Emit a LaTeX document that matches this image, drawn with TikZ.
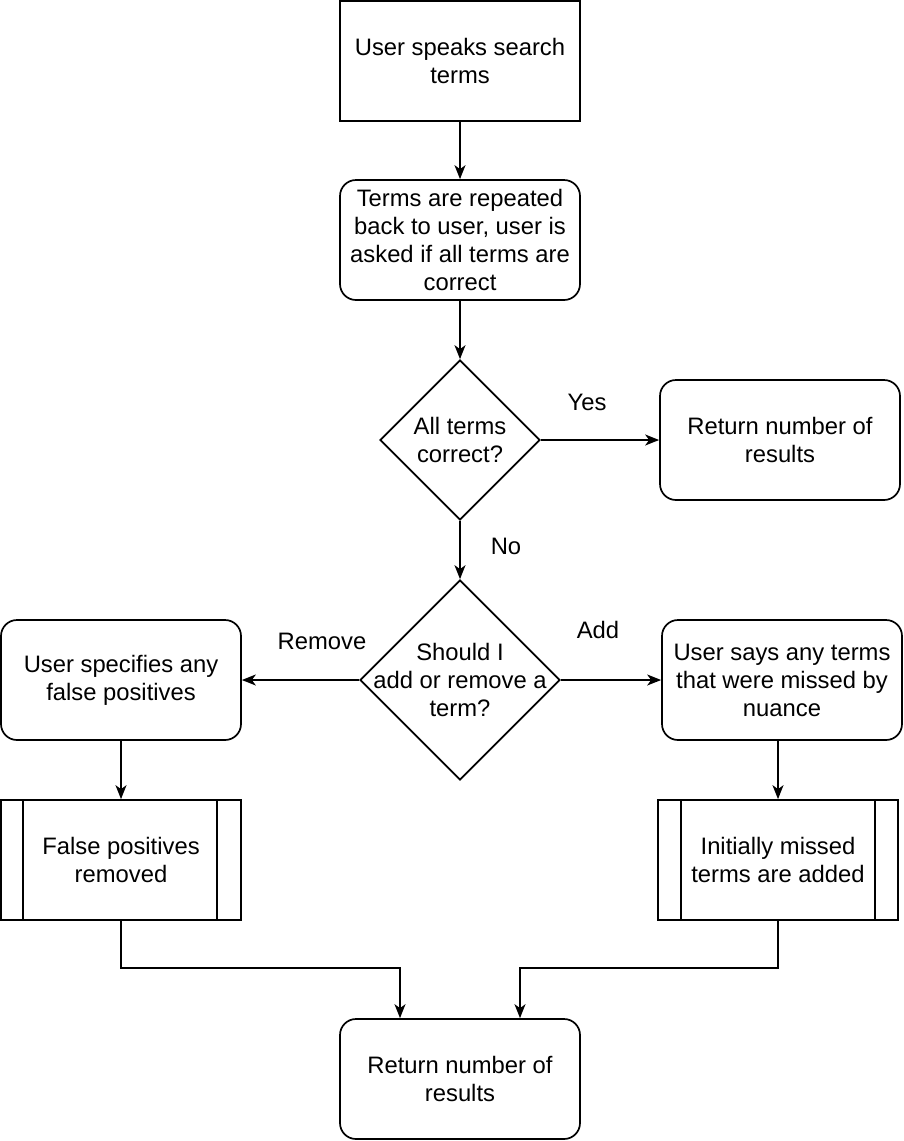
\documentclass[tikz,border=0pt]{standalone}
\usepackage{fontspec}
\setmainfont{Liberation Sans}
\usetikzlibrary{shapes.geometric,arrows.meta}
\begin{document}
\begin{tikzpicture}[x=1pt,y=-1pt,
  every node/.style={font=\fontsize{23.8}{28}\selectfont, align=center},
  sqbox/.style={draw, line width=1.7pt, minimum width=240pt, minimum height=120pt, inner sep=0pt},
  rbox/.style={sqbox, rounded corners=16pt},
  dia/.style={draw, diamond, line width=1.7pt, minimum width=160pt, minimum height=160pt, inner sep=0pt},
  arr/.style={line width=1.7pt, -{Stealth[length=14pt,width=11pt,inset=4pt]}},
  ln/.style={line width=1.7pt},
  lbl/.style={inner sep=0pt}
]
\useasboundingbox (0,0) rectangle (903,1141);
\node[sqbox] (b1) at (460,61) {User speaks search\\terms};
\node[rbox] (b2) at (460,240) {Terms are repeated\\back to user, user is\\asked if all terms are\\correct};
\node[dia] (d1) at (460,440) {};
\node (t1) at (d1) {All terms\\correct?};
\node[rbox] (b3) at (780,440) {Return number of\\results};
\node[dia, minimum width=200pt, minimum height=200pt] (d2) at (460,680) {};
\node (t2) at (d2) {Should I\\add or remove a\\term?};
\node[rbox] (b4) at (121,680) {User specifies any\\false positives};
\node[rbox] (b5) at (782,680) {User says any terms\\that were missed by\\nuance};
\node[sqbox] (p6) at (121,860) {False positives\\removed};
\draw[ln] (p6.north west) ++(23,0) coordinate (p6a) -- (p6a |- p6.south);
\draw[ln] (p6.north east) ++(-25,0) coordinate (p6b) -- (p6b |- p6.south);
\node[sqbox] (p7) at (778,860) {Initially missed\\terms are added};
\draw[ln] (p7.north west) ++(24,0) coordinate (p7a) -- (p7a |- p7.south);
\draw[ln] (p7.north east) ++(-24,0) coordinate (p7b) -- (p7b |- p7.south);
\node[rbox] (b8) at (460,1079) {Return number of\\results};

\draw[arr] (b1.south) -- (b2.north);
\draw[arr] (b2.south) -- (d1.north);
\draw[arr] (d1.east) -- (b3.west);
\draw[arr] (d1.south) -- (d2.north);
\draw[arr] (d2.west) -- (b4.east);
\draw[arr] (d2.east) -- (b5.west);
\draw[arr] (b4.south) -- (p6.north);
\draw[arr] (b5.south -| p7.north) -- (p7.north);
\coordinate (j1) at (400,968);
\coordinate (j2) at (520,968);
\draw[arr] (p6.south) |- (j1) -- (j1 |- b8.north);
\draw[arr] (p7.south) |- (j2) -- (j2 |- b8.north);

\node[lbl] (ly) at (587,402) {Yes};
\node[lbl] (ln) at (506,546) {No};
\node[lbl] (lr) at (322,641) {Remove};
\node[lbl] (la) at (598,630) {Add};
\end{tikzpicture}
\end{document}
